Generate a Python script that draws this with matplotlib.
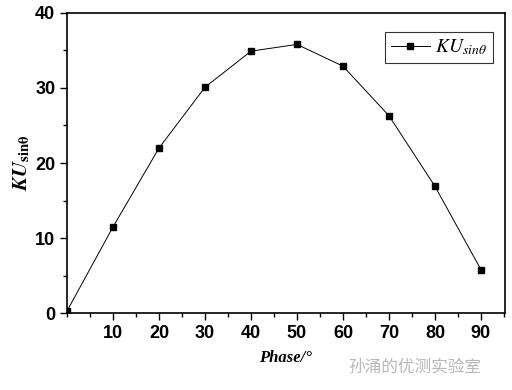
import matplotlib
matplotlib.use("Agg")
import matplotlib.pyplot as plt
from matplotlib.ticker import MultipleLocator

# phase angle (deg) vs KU_sin(theta)
phase = [0, 10, 20, 30, 40, 50, 60, 70, 80, 90]
ku_sin = [0.3, 11.5, 22.0, 30.1, 34.9, 35.8, 32.9, 26.3, 16.9, 5.8]

plt.rcParams['mathtext.fontset'] = 'stix'

fig = plt.figure(figsize=(5.12, 3.9), dpi=100)
ax = fig.add_axes([0.131, 0.197, 0.855, 0.77])

ax.plot(phase, ku_sin, color='black', lw=0.7, marker='s', ms=5,
        label=r'$KU_{sin\theta}$')

ax.set_xlim(0, 95.2)
ax.set_ylim(0, 40)
ax.set_xticks([10, 20, 30, 40, 50, 60, 70, 80, 90])
ax.xaxis.set_minor_locator(MultipleLocator(5))
ax.yaxis.set_major_locator(MultipleLocator(10))
ax.yaxis.set_minor_locator(MultipleLocator(5))
ax.tick_params(which='major', direction='out', length=5, width=1)
ax.tick_params(which='minor', direction='out', length=3, width=1)
for lab in ax.get_xticklabels() + ax.get_yticklabels():
    lab.set_fontfamily('Liberation Sans')
    lab.set_fontweight('heavy')
    lab.set_fontsize(13)
for s in ax.spines.values():
    s.set_linewidth(1.2)

ax.set_xlabel('Phase/°', family='Liberation Serif', style='italic',
              weight='bold', fontsize=12, labelpad=6)
ax.set_ylabel(r'$\mathbfit{KU}_{\mathbf{sin\theta}}$', fontsize=15, labelpad=2)

leg = ax.legend(loc='upper right', bbox_to_anchor=(0.995, 0.97), fontsize=14,
                frameon=True, fancybox=False, edgecolor='black',
                handlelength=2, borderpad=0.3, handletextpad=0.3)
leg.get_frame().set_linewidth(0.8)

fig.text(0.81, 0.06, '孙涌的优测实验室', family=['Noto Sans CJK SC', 'DejaVu Sans'],
         color='#b8b8b8', fontsize=12, ha='center', va='center')

fig.savefig('out.png', dpi=100)
